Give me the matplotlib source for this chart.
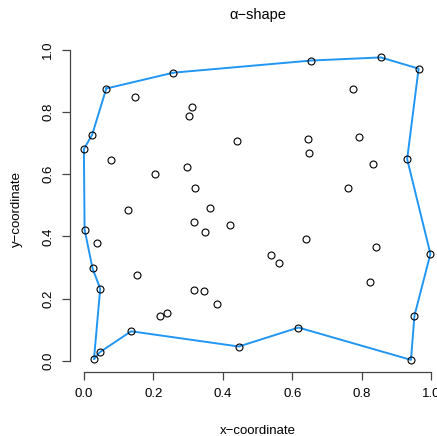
import numpy as np
import matplotlib
matplotlib.use("Agg")
import matplotlib.pyplot as plt

plt.rcParams["font.family"] = ["Liberation Sans", "DejaVu Sans"]

# ── points (x, y) ──
pts_x = [0.0645, 0.258, 0.655, 0.855, 0.964, 0.931, 0.998, 0.952, 0.942, 0.618,
         0.446, 0.136, 0.045, 0.029, 0.047, 0.025, 0.002, 0.000, 0.024,
         0.148, 0.311, 0.302, 0.442, 0.077, 0.297, 0.206, 0.321, 0.364, 0.128,
         0.774, 0.644, 0.792, 0.648, 0.833, 0.760,
         0.317, 0.420, 0.350, 0.038, 0.153, 0.316, 0.346, 0.382, 0.218, 0.240,
         0.641, 0.842, 0.539, 0.562, 0.825]
pts_y = [0.876, 0.927, 0.966, 0.976, 0.940, 0.649, 0.344, 0.145, 0.003, 0.107,
         0.046, 0.095, 0.027, 0.005, 0.232, 0.297, 0.422, 0.681, 0.728,
         0.850, 0.817, 0.787, 0.707, 0.645, 0.624, 0.600, 0.555, 0.493, 0.486,
         0.874, 0.713, 0.719, 0.668, 0.632, 0.555,
         0.445, 0.436, 0.415, 0.379, 0.275, 0.228, 0.224, 0.182, 0.145, 0.155,
         0.391, 0.366, 0.339, 0.316, 0.252]

# alpha-shape boundary (indices into the point lists, closed loop)
hull_idx = list(range(19)) + [0]
hull_x = [pts_x[i] for i in hull_idx]
hull_y = [pts_y[i] for i in hull_idx]

ticks = [0.0, 0.2, 0.4, 0.6, 0.8, 1.0]

W, H = 437, 436
fig = plt.figure(figsize=(W / 100, H / 100), dpi=100)
ax = fig.add_axes([70 / W, (H - 372) / H, (445 - 70) / W, (372 - 45.3) / H])

ax.plot(hull_x, hull_y, color="#2196F3", lw=1.4, zorder=2)
ax.plot(pts_x, pts_y, "o", ms=5, mfc="none", mec="black", mew=0.8, zorder=3)

ax.set_xlim(-0.04, 1.04)
ax.set_ylim(-0.036, 1.015)
ax.set_xticks(ticks)
ax.set_yticks(ticks)
ax.set_xticklabels([f"{t:.1f}" for t in ticks])
ax.set_yticklabels([f"{t:.1f}" for t in ticks], rotation=90, va="center")

for s in ["top", "right"]:
    ax.spines[s].set_visible(False)
for s in ["left", "bottom"]:
    ax.spines[s].set_bounds(0, 1)
    ax.spines[s].set_color("#444444")
    ax.spines[s].set_linewidth(0.9)
ax.tick_params(direction="out", length=5.5, width=0.9, color="#444444",
               labelsize=9.5, pad=6)

ax.set_xlabel("x\u2212coordinate", fontsize=9.5, labelpad=18)
ax.set_ylabel("y\u2212coordinate", fontsize=9.5, labelpad=14)
ax.set_title("\u03b1\u2212shape", fontsize=10.5, pad=19)

fig.savefig("out.png", dpi=100, facecolor="white")
plt.close(fig)
